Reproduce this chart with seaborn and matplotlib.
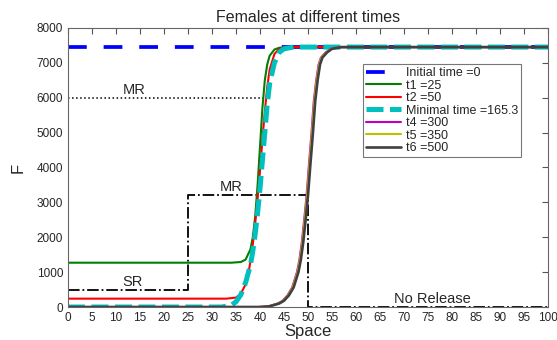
import numpy as np
import pandas as pd
import matplotlib
matplotlib.use('Agg')
import matplotlib.pyplot as plt
import seaborn as sns

# values
x_init = [0, 100]
F_init = [7450, 7450]

x_t1 = [0, 34, 36, 37, 38, 38.5, 39, 39.5, 40, 40.5, 41, 41.5, 42, 43, 44, 46, 100]
F_t1 = [1270, 1270, 1290, 1360, 1650, 2000, 2600, 3500, 4600, 5700, 6500, 6950, 7200, 7380, 7430, 7450, 7450]

x_t2 = [0, 33, 35, 36, 37, 37.5, 38, 38.5, 39, 39.5, 40, 40.5, 41, 41.5, 42, 43, 44, 46, 100]
F_t2 = [240, 240, 270, 380, 650, 900, 1300, 1800, 2400, 3100, 3900, 4800, 5600, 6300, 6800, 7250, 7400, 7450, 7450]

x_min = [0, 32, 34, 35, 36, 37, 38, 38.5, 39, 39.5, 40, 40.5, 41, 41.5, 42, 43, 44, 45, 47, 100]
F_min = [0, 0, 50, 150, 350, 700, 1200, 1600, 2100, 2700, 3400, 4200, 5000, 5800, 6400, 7000, 7300, 7400, 7450, 7450]

x_t4 = [0, 39.7, 41.7, 43.7, 44.7, 45.7, 46.7, 47.7, 48.2, 48.7, 49.2, 49.7, 50.2, 50.7, 51.2, 51.7, 52.2, 52.7, 53.7, 54.7, 56.7, 100]
F_t4 = [0, 0, 20, 100, 180, 330, 560, 1000, 1350, 1850, 2500, 3200, 4100, 4950, 5900, 6500, 6950, 7150, 7300, 7400, 7450, 7450]

x_t5 = [0, 39.8, 41.8, 43.8, 44.8, 45.8, 46.8, 47.8, 48.3, 48.8, 49.3, 49.8, 50.3, 50.8, 51.3, 51.8, 52.3, 52.8, 53.8, 54.8, 56.8, 100]
F_t5 = [0, 0, 20, 100, 180, 330, 560, 1000, 1350, 1850, 2500, 3200, 4100, 4950, 5900, 6500, 6950, 7150, 7300, 7400, 7450, 7450]

x_t6 = [0, 40, 42, 44, 45, 46, 47, 48, 48.5, 49, 49.5, 50, 50.5, 51, 51.5, 52, 52.5, 53, 54, 55, 57, 100]
F_t6 = [0, 0, 20, 100, 180, 330, 560, 1000, 1350, 1850, 2500, 3200, 4100, 4950, 5900, 6500, 6950, 7150, 7300, 7400, 7450, 7450]

x_step = [0, 25, 25, 50, 50, 100]
F_step = [480, 480, 3200, 3200, 0, 0]

x_mr = [0, 40.7]
F_mr = [6000, 6000]

# name, x, y, colour, dash, width
series = [
    ('Initial time =0', x_init, F_init, (0, 0, 1), (0, (5, 4.5)), 2.7),
    ('t1 =25', x_t1, F_t1, (0, 0.5, 0), '-', 1.5),
    ('t2 =50', x_t2, F_t2, (1, 0, 0), '-', 1.5),
    ('Minimal time =165.3', x_min, F_min, (0, 0.75, 0.75), (0, (3.4, 1.3)), 3.6),
    ('t4 =300', x_t4, F_t4, (0.75, 0, 0.75), '-', 1.5),
    ('t5 =350', x_t5, F_t5, (0.75, 0.75, 0), '-', 1.5),
    ('t6 =500', x_t6, F_t6, (0.25, 0.25, 0.25), '-', 1.9),
]

sns.set_style('white')
plt.rcParams['font.family'] = ['Liberation Sans', 'DejaVu Sans']

fig, ax = plt.subplots(figsize=(5.57, 3.4), dpi=100)
fig.subplots_adjust(left=0.122, right=0.984, top=0.918, bottom=0.097)

sns.lineplot(x=x_step, y=F_step, ax=ax, color='black', linestyle='-.',
             lw=1.3, sort=False, estimator=None)
sns.lineplot(x=x_mr, y=F_mr, ax=ax, color='black', linestyle=':',
             lw=1.1, sort=False, estimator=None)

for name, xs, ys, col, ls, lw in series:
    sns.lineplot(x=xs, y=ys, ax=ax, color=col, linestyle=ls, lw=lw,
                 label=name, sort=False, estimator=None)

ax.text(13.75, 6100, 'MR', fontsize=10.5, ha='center', va='baseline')
ax.text(33.9, 3330, 'MR', fontsize=10.5, ha='center', va='baseline')
ax.text(13.5, 600, 'SR', fontsize=10.5, ha='center', va='baseline')
ax.text(76, 125, 'No Release', fontsize=10.5, ha='center', va='baseline')

ax.set_xlim(0, 100)
ax.set_ylim(0, 8000)
ax.set_xticks(range(0, 101, 5))
ax.set_yticks(range(0, 8001, 1000))
ax.tick_params(direction='in', top=True, right=True, labelsize=8.5,
               length=4, pad=3.5, color='#555555')
for s in ax.spines.values():
    s.set_color('#666666')
    s.set_linewidth(0.8)

ax.set_title('Females at different times', fontsize=11.5, pad=4)
ax.set_xlabel('Space', fontsize=12, labelpad=0)
ax.set_ylabel('F', fontsize=12, labelpad=8)

leg = ax.legend(loc='upper left', bbox_to_anchor=(0.614, 0.871), fontsize=9,
                frameon=True, fancybox=False, edgecolor='#555555',
                borderaxespad=0, handlelength=2.8, handletextpad=0.4,
                labelspacing=0.04, borderpad=0.25)
leg.get_frame().set_linewidth(0.8)

plt.savefig('out.png', dpi=100)
